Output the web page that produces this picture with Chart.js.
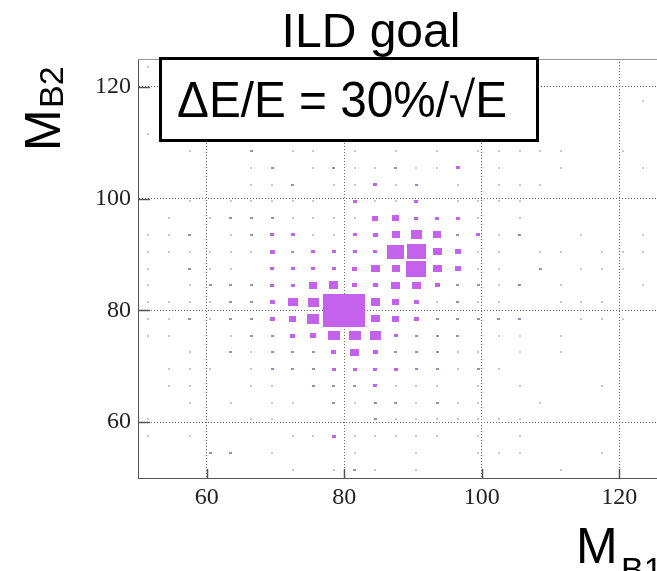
<!DOCTYPE html>
<html>
<head>
<meta charset="utf-8">
<title>ILD goal</title>
<script src="https://cdn.jsdelivr.net/npm/chart.js@4/dist/chart.umd.min.js"></script>
<style>
  html, body { margin: 0; padding: 0; background: #fff; }
</style>
</head>
<body>
<canvas id="boxChart" width="657" height="571"></canvas>
<script>
// bin centres (same binning for M_B1 and M_B2)
const binCenters = [51.5, 54.5, 57.5, 60.5, 63.5, 66.5, 69.5, 72.5, 75.5, 78.5, 81.5, 84.5,
    87.5, 90.5, 93.5, 96.5, 99.5, 102.5, 105.5, 108.5, 111.5, 114.5, 117.5, 120.5, 123.5];
const binWidth = 3;
const tickValues = [60, 80, 100, 120];
const chartTitle = 'ILD goal';
const boxLabel = 'ΔE/E = 30%/√E';

// relative box size per bin (100 = full bin), top row is M_B2 = 123.5, bottom row 51.5
const boxRows = [
    [7,0,0,0,0,0,0,0,0,0,0,0,0,0,0,0,0,0,0,0,0,0,0,0,0],
    [0,0,0,0,0,0,0,0,0,0,0,0,0,0,0,0,0,0,0,0,0,0,0,0,0],
    [0,0,0,0,0,0,0,0,0,0,0,0,0,0,0,0,0,0,0,0,0,0,0,0,7],
    [0,0,0,0,0,0,0,0,0,0,0,0,0,0,0,0,0,0,0,0,0,0,0,0,0],
    [7,0,0,0,0,0,0,0,0,0,0,0,0,0,0,0,0,0,0,0,0,0,0,0,0],
    [0,0,7,0,0,14,0,7,7,0,7,0,7,0,7,0,7,7,7,7,7,0,0,7,0],
    [0,0,0,0,0,7,14,0,7,14,7,7,14,7,7,18,0,7,0,0,7,0,0,0,7],
    [0,0,0,0,0,7,7,14,0,7,7,18,7,14,0,7,0,7,7,7,0,0,0,0,0],
    [0,0,7,0,7,7,7,7,7,0,18,7,7,20,0,7,7,7,7,0,0,0,0,0,0],
    [0,7,0,7,14,14,14,7,7,7,7,29,34,20,20,20,7,0,7,0,0,0,0,0,0],
    [7,7,14,0,7,14,18,18,7,7,20,25,39,53,39,14,18,7,14,0,0,7,0,0,7],
    [7,7,7,7,7,7,25,14,18,20,20,18,83,90,44,29,7,7,0,7,7,0,7,7,7],
    [7,0,14,7,7,0,18,18,18,20,22,44,39,95,44,29,7,7,0,14,0,7,7,7,0],
    [7,0,7,14,14,14,18,18,39,46,22,25,42,44,25,14,14,7,14,0,7,0,0,0,7],
    [7,7,7,7,14,14,25,49,53,100,100,46,34,25,7,14,7,7,0,0,7,7,7,0,0],
    [7,7,14,7,14,14,25,34,60,100,100,44,36,25,14,14,14,14,14,0,0,7,7,7,0],
    [7,7,0,0,7,14,14,25,29,56,56,51,18,14,14,14,0,7,7,0,7,0,0,0,0],
    [0,0,7,0,14,7,14,14,14,22,42,25,14,14,14,7,7,0,7,0,7,0,0,0,0],
    [0,7,7,7,0,7,14,14,14,18,18,18,18,14,14,7,14,7,0,0,0,0,0,0,0],
    [0,7,7,0,0,7,7,0,14,14,14,18,7,7,7,0,7,0,7,0,0,0,7,0,0],
    [0,0,7,0,7,0,7,7,0,14,7,14,14,7,14,7,7,0,0,7,0,0,0,0,0],
    [7,0,0,0,0,7,7,0,0,0,0,14,7,7,7,7,7,7,7,0,0,0,0,0,0],
    [7,0,7,0,0,0,0,7,7,18,7,7,7,7,7,0,7,0,7,0,0,0,0,0,0],
    [0,0,0,14,14,0,7,0,0,0,7,0,0,7,0,0,7,7,7,0,0,0,7,0,0],
    [0,0,0,0,0,0,0,7,0,7,14,7,0,7,0,0,0,0,0,0,7,0,0,0,0]
];

const boxPoints = [];
boxRows.forEach(function (row, i) {
    const yVal = binCenters[binCenters.length - 1 - i];
    row.forEach(function (v, k) {
        if (v > 0) boxPoints.push({ x: binCenters[k], y: yVal, v: v });
    });
});

// one small canvas per box size, used as the point style
const boxCache = {};
function boxImage(w, h, color) {
    const key = w + 'x' + h + color;
    if (!boxCache[key]) {
        const cv = document.createElement('canvas');
        cv.width = w;
        cv.height = h;
        const g = cv.getContext('2d');
        g.fillStyle = color;
        g.fillRect(0, 0, w, h);
        boxCache[key] = cv;
    }
    return boxCache[key];
}

function boxStyle(ctx) {
    const p = ctx.raw;
    if (!p) return 'rect';
    const sx = ctx.chart.scales.x;
    const sy = ctx.chart.scales.y;
    const binPxX = Math.abs(sx.getPixelForValue(binWidth) - sx.getPixelForValue(0));
    const binPxY = Math.abs(sy.getPixelForValue(binWidth) - sy.getPixelForValue(0));
    const w = Math.max(2, Math.round(binPxX * p.v / 100));
    const h = Math.max(2, Math.round(binPxY * p.v / 100));
    let color = '#c462ee';
    if (p.v < 10) color = '#cdc5d2';
    else if (p.v < 16) color = '#a08cae';
    return boxImage(w, h, color);
}

const decorPlugin = {
    id: 'decor',
    afterDraw(chart) {
        const { ctx, chartArea: a, scales: { x, y } } = chart;
        ctx.save();

        // top frame
        ctx.strokeStyle = '#999';
        ctx.lineWidth = 1;
        ctx.beginPath();
        ctx.moveTo(a.left, a.top + 0.5);
        ctx.lineTo(a.right, a.top + 0.5);
        ctx.stroke();

        // ticks pointing into the frame
        ctx.strokeStyle = '#555';
        ctx.lineWidth = 1.5;
        tickValues.forEach(function (v) {
            const px = Math.round(x.getPixelForValue(v)) + 0.5;
            ctx.beginPath();
            ctx.moveTo(px, a.bottom);
            ctx.lineTo(px, a.bottom - 9);
            ctx.stroke();
            const py = Math.round(y.getPixelForValue(v)) + 0.5;
            ctx.beginPath();
            ctx.moveTo(a.left, py);
            ctx.lineTo(a.left + 12, py);
            ctx.stroke();
        });

        // title
        ctx.fillStyle = '#000';
        ctx.font = '48px "Liberation Sans"';
        ctx.textAlign = 'center';
        ctx.textBaseline = 'alphabetic';
        ctx.fillText(chartTitle, 371, 47);

        // resolution label
        ctx.fillStyle = '#fff';
        ctx.fillRect(160, 58, 378, 83);
        ctx.strokeStyle = '#000';
        ctx.lineWidth = 3;
        ctx.strokeRect(160.5, 58.5, 377, 82);
        ctx.fillStyle = '#000';
        ctx.font = '50px "Liberation Sans"';
        ctx.textAlign = 'left';
        ctx.fillText(boxLabel, 177, 117, 330);

        // x axis title M_B1
        ctx.font = '50px "Liberation Sans"';
        ctx.fillText('M', 576, 563);
        ctx.font = '34px "Liberation Sans"';
        ctx.fillText('B1', 621, 581);

        // y axis title M_B2
        ctx.translate(60, 151);
        ctx.rotate(-Math.PI / 2);
        ctx.font = '50px "Liberation Sans"';
        ctx.fillText('M', 0, 0);
        ctx.font = '34px "Liberation Sans"';
        ctx.fillText('B2', 43, 3);

        ctx.restore();
    }
};

const tickFont = { family: '"Liberation Serif", "DejaVu Serif", serif', size: 24 };

new Chart(document.getElementById('boxChart'), {
    type: 'scatter',
    data: {
        datasets: [{
            label: 'M_B2 vs M_B1',
            data: boxPoints,
            pointStyle: boxStyle,
            pointRadius: 3,
            pointHoverRadius: 3
        }]
    },
    options: {
        responsive: false,
        animation: false,
        layout: { autoPadding: false, padding: { top: 59, right: 0, bottom: 0, left: 0 } },
        plugins: {
            legend: { display: false },
            tooltip: { enabled: false },
            title: { display: false }
        },
        scales: {
            x: {
                type: 'linear',
                min: 50,
                max: 125.5,
                z: 1,
                afterBuildTicks: function (scale) {
                    scale.ticks = tickValues.map(v => ({ value: v }));
                },
                afterFit: function (scale) { scale.height = 93; },
                grid: { drawTicks: false, color: '#666', lineWidth: 1 },
                border: { display: true, color: '#555', width: 1, dash: [1, 2] },
                ticks: { font: tickFont, color: '#222', padding: 5, maxRotation: 0, autoSkip: false }
            },
            y: {
                type: 'linear',
                min: 50,
                max: 125,
                z: 1,
                afterBuildTicks: function (scale) {
                    scale.ticks = tickValues.map(v => ({ value: v }));
                },
                afterFit: function (scale) { scale.width = 138; },
                grid: { drawTicks: false, color: '#666', lineWidth: 1 },
                border: { display: true, color: '#555', width: 1, dash: [1, 2] },
                ticks: { font: tickFont, color: '#222', padding: 7, autoSkip: false }
            }
        }
    },
    plugins: [decorPlugin]
});
</script>
</body>
</html>
